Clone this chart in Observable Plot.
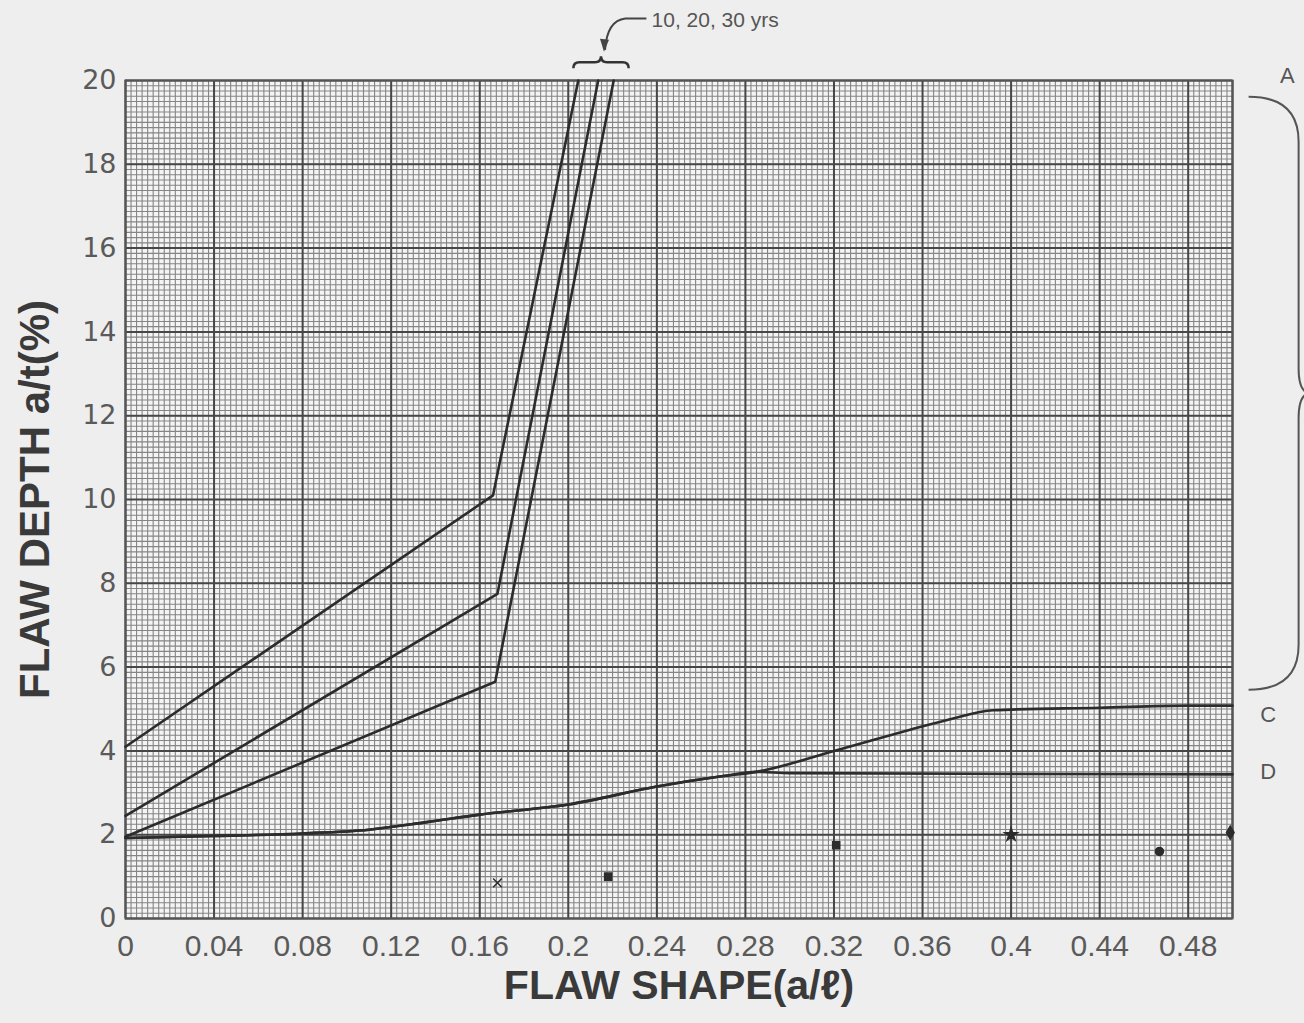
<!DOCTYPE html>
<html>
<head>
<meta charset="utf-8">
<script src="https://cdn.jsdelivr.net/npm/d3@7"></script>
<script src="https://cdn.jsdelivr.net/npm/@observablehq/plot@0.6"></script>
<style>
  html, body { margin: 0; padding: 0; background: #eeeeee; }
  svg { display: block; }
</style>
</head>
<body>
<div id="chart"></div>
<script>
// ---- tick labels ----
const xTicks = [0, 0.04, 0.08, 0.12, 0.16, 0.2, 0.24, 0.28, 0.32, 0.36, 0.4, 0.44, 0.48];
const yTicks = [0, 2, 4, 6, 8, 10, 12, 14, 16, 18, 20];

// ---- steep curves (10, 20, 30 yrs) ----
const seriesSteep = ["10 yrs", "20 yrs", "30 yrs"];
const steepX = [
  [0, 0.166, 0.2045],
  [0, 0.168, 0.2135],
  [0, 0.167, 0.2205]
];
const steepY = [
  [4.1, 10.1, 20],
  [2.45, 7.75, 20],
  [1.95, 5.65, 20]
];

// ---- lower curves C and D (shared start) ----
const sharedX = [0, 0.04, 0.08, 0.11, 0.136, 0.16, 0.2, 0.24, 0.27, 0.285];
const sharedY = [1.92, 1.97, 2.03, 2.12, 2.3, 2.48, 2.72, 3.15, 3.4, 3.5];
const tailCX = [0.32, 0.354, 0.372, 0.392, 0.44, 0.48, 0.5];
const tailCY = [4.0, 4.5, 4.75, 4.97, 5.03, 5.08, 5.08];
const tailDX = [0.3, 0.4, 0.5];
const tailDY = [3.47, 3.45, 3.44];

// ---- scattered marks near the bottom ----
const markX = [0.168, 0.218, 0.321, 0.4, 0.467, 0.499];
const markY = [0.85, 1.0, 1.75, 2.0, 1.6, 2.05];
const markSymbol = ["times", "square", "square", "star", "circle", "diamond"];

// ---- annotations (data units) ----
const sideLabels = ["C", "D", "A"];
const sideLabelX = [0.5125, 0.5125, 0.5215];
const sideLabelY = [4.85, 3.5, 20.1];
const yrsLabel = "10, 20, 30 yrs";
const yrsLabelPos = [0.2376, 21.43];
const topBrace = [0.2025, 0.2275, 20.28];   // x1, x2, y (ends)
const rightBrace = [0.5075, 19.6, 5.45];    // x (ends), yTop, yBottom
const arrowPts = [[0.2355, 21.47], [0.226, 21.47], [0.2168, 20.72]];

// ---- grid positions ----
const minorX = d3.range(0, 201).map(i => i * 0.0025);
const minorY = d3.range(0, 161).map(i => i * 0.125);
const majorX = xTicks.concat([0.5]);

// build tables
const steepData = [];
seriesSteep.forEach((s, i) => steepX[i].forEach((x, j) => steepData.push({series: s, x, y: steepY[i][j]})));
const cdData = [];
sharedX.forEach((x, j) => cdData.push({series: "C", x, y: sharedY[j]}));
tailCX.forEach((x, j) => cdData.push({series: "C", x, y: tailCY[j]}));
sharedX.forEach((x, j) => cdData.push({series: "D", x, y: sharedY[j]}));
tailDX.forEach((x, j) => cdData.push({series: "D", x, y: tailDY[j]}));
const marks = markX.map((x, i) => ({x, y: markY[i], s: markSymbol[i]}));
const sideData = sideLabels.map((t, i) => ({t, x: sideLabelX[i], y: sideLabelY[i]}));

const chart = Plot.plot({
  width: 1304,
  height: 1023,
  marginLeft: 125,
  marginRight: 72,
  marginTop: 80,
  marginBottom: 105,
  style: {background: "#eeeeee", fontFamily: "Liberation Sans, Arial, sans-serif"},
  x: {domain: [0, 0.5], axis: null},
  y: {domain: [0, 20], axis: null},
  marks: [
    Plot.frame({fill: "#f4f4f4", stroke: null}),
    Plot.ruleX(minorX, {stroke: "#858585", strokeWidth: 1.1}),
    Plot.ruleY(minorY, {stroke: "#858585", strokeWidth: 1.1}),
    Plot.ruleX(majorX, {stroke: "#474747", strokeWidth: 2}),
    Plot.ruleY(yTicks, {stroke: "#474747", strokeWidth: 2}),
    Plot.frame({stroke: "#555", strokeWidth: 2}),
    Plot.line(cdData, {x: "x", y: "y", z: "series", stroke: "#2c2c2c", strokeWidth: 2.6, curve: "monotone-x"}),
    Plot.line(steepData, {x: "x", y: "y", z: "series", stroke: "#2c2c2c", strokeWidth: 2.6}),
    Plot.dot(marks, {x: "x", y: "y", symbol: "s", r: 4, fill: "#2c2c2c", stroke: "#2c2c2c", strokeWidth: 1.5}),
    Plot.axisX(xTicks, {anchor: "bottom", tickSize: 0, tickPadding: 16, fontSize: 30, fill: "#5a5a5a",
      fontFamily: "Liberation Sans, Arial, sans-serif", tickFormat: d => String(d), label: null}),
    Plot.axisY(yTicks, {anchor: "left", tickSize: 0, tickPadding: 9, fontSize: 27, fill: "#5a5a5a",
      fontFamily: "DejaVu Sans, sans-serif", tickFormat: d => String(d), label: null}),
    Plot.text(["FLAW SHAPE(a/ℓ)"], {frameAnchor: "bottom", dy: 80, fontSize: 41, fontWeight: "bold", fill: "#3a3a3a", textAnchor: "middle"}),
    Plot.text(["FLAW DEPTH a/t(%)"], {frameAnchor: "left", dx: -90, rotate: -90, textAnchor: "middle", fontSize: 42, fontWeight: "bold", fill: "#3a3a3a"}),
    Plot.text(sideData, {x: "x", y: "y", text: "t", textAnchor: "start", fontSize: 22, fill: "#555"}),
    Plot.text([yrsLabel], {x: () => yrsLabelPos[0], y: () => yrsLabelPos[1], textAnchor: "start", fontSize: 21, fill: "#555"})
  ]
});

document.getElementById("chart").appendChild(chart);

// ---- braces and arrow drawn through the plot's scales ----
const sx = chart.scale("x"), sy = chart.scale("y");
const svg = d3.select(chart);
const ink = "#555";

// top brace (tip up)
{
  const x1 = sx.apply(topBrace[0]), x2 = sx.apply(topBrace[1]), y = sy.apply(topBrace[2]);
  const h = 12, r = 6, xm = (x1 + x2) / 2, ym = y - h / 2;
  const d = `M${x1},${y} Q${x1},${ym} ${x1 + r},${ym} L${xm - r},${ym} Q${xm},${ym} ${xm},${y - h}` +
            ` Q${xm},${ym} ${xm + r},${ym} L${x2 - r},${ym} Q${x2},${ym} ${x2},${y}`;
  svg.append("path").attr("d", d).attr("fill", "none").attr("stroke", "#333").attr("stroke-width", 2.5);
}
// right brace (tip right)
{
  const x = sx.apply(rightBrace[0]), y1 = sy.apply(rightBrace[1]), y2 = sy.apply(rightBrace[2]);
  const w = 50, tip = 62, r = 45, ym = (y1 + y2) / 2, xb = x + w;
  const d = `M${x},${y1} Q${xb},${y1} ${xb},${y1 + r} L${xb},${ym - 25} Q${xb},${ym} ${x + tip},${ym}` +
            ` Q${xb},${ym} ${xb},${ym + 25} L${xb},${y2 - r} Q${xb},${y2} ${x},${y2}`;
  svg.append("path").attr("d", d).attr("fill", "none").attr("stroke", ink).attr("stroke-width", 2);
}
// arrow to the top brace
{
  const p = arrowPts.map(([a, b]) => [sx.apply(a), sy.apply(b)]);
  const d = `M${p[0][0]},${p[0][1]} L${p[1][0]},${p[1][1]} Q${p[2][0] + 2},${p[1][1] + 2} ${p[2][0]},${p[2][1]}`;
  svg.append("path").attr("d", d).attr("fill", "none").attr("stroke", "#444").attr("stroke-width", 2);
  const tx = p[2][0], ty = p[2][1];
  svg.append("path").attr("d", `M${tx - 5},${ty - 11} L${tx + 4},${ty - 10} L${tx - 1},${ty + 2} Z`).attr("fill", "#444");
}
</script>
</body>
</html>
